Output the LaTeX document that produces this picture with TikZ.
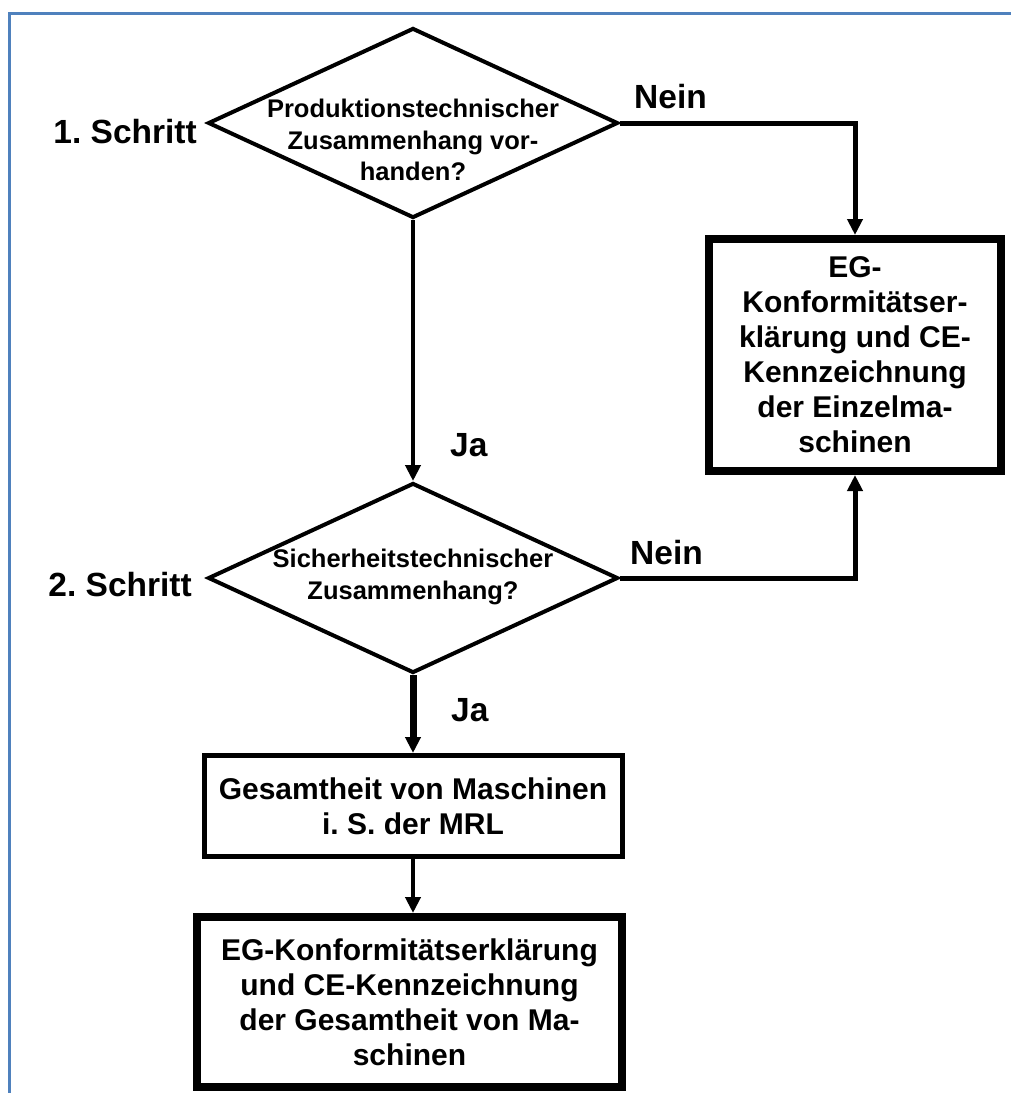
\documentclass[tikz,border=0pt]{standalone}
\usepackage{fontspec}
\setmainfont{Liberation Sans}
\frenchspacing
\usetikzlibrary{shapes.geometric,arrows.meta,positioning}
\definecolor{rahmen}{HTML}{4F81BD}
\begin{document}
\begin{tikzpicture}[x=1pt,y=-1pt,
	raute/.style={draw,diamond,line width=4pt,minimum width=410pt,minimum height=190pt,inner sep=0pt},
	rtxt/.style={align=center,inner sep=0pt,font=\bfseries\fontsize{25.5}{31.5}\selectfont},
	kasten/.style={draw,line width=#1,align=center,inner sep=0pt,font=\bfseries\fontsize{30}{35}\selectfont},
	lbl/.style={inner sep=0pt,font=\bfseries\fontsize{33.5}{36}\selectfont},
	pfeil/.style={line width=#1,-{Triangle[length=16pt,width=15pt]}}]
		\useasboundingbox (0,0) rectangle (1011,1093);
		\draw[rahmen,line width=3pt] (9,1093)--(9,13)--(1011,13);
		% \node[raute] (d0) at (413,123) {Produktionstechnischer Zusammenhang vorhanden?};
		\node[raute] (d1) at (413,123) {};
		\node[rtxt] (d1t) at (413,140) {Produktionstechnischer\\Zusammenhang vor-\\handen?};
		\node[raute] (d2) at (413,578) {};
		\node[rtxt] (d2t) at (413,577) {Sicherheitstechnischer\\Zusammenhang?};
		\node[kasten=8pt,minimum width=292pt,minimum height=232pt] (k1) at (855,355) {EG-\\Konformitätser-\\klärung und CE-\\Kennzeichnung\\der Einzelma-\\schinen};
		\node[kasten=5pt,minimum width=418pt,minimum height=101pt] (k2) at (413,806) {Gesamtheit von Maschinen\\i. S. der MRL};
		\node[kasten=8pt,minimum width=425pt,minimum height=170pt] (k3) at (409.5,1002) {EG-Konformitätserklärung\\und CE-Kennzeichnung\\der Gesamtheit von Ma-\\schinen};
		\node[lbl,left=9pt of d1.west,yshift=-9pt] (s1) {1. Schritt};
		\node[lbl,left=14pt of d2.west,yshift=-7pt] (s2) {2. Schritt};
		\node[lbl,above right=14pt and 14pt of d1.east] (n1) {Nein};
		\node[lbl,above right=13pt and 10pt of d2.east] (n2) {Nein};
		\node[lbl,above right=24pt and 37pt of d2.north] (j1) {Ja};
		\node[lbl,below right=23pt and 38pt of d2.south] (j2) {Ja};
		\draw[pfeil=5pt] (d1.east)-|(k1.north);
		\draw[pfeil=5pt] (d2.east)-|(k1.south);
		\draw[pfeil=4.5pt] (d1.south)--(d2.north);
		\draw[pfeil=7pt] (d2.south)--(k2.north);
		\draw[pfeil=4pt] (k2.south)--(k2.south|-k3.north);
		\end{tikzpicture}
\end{document}
